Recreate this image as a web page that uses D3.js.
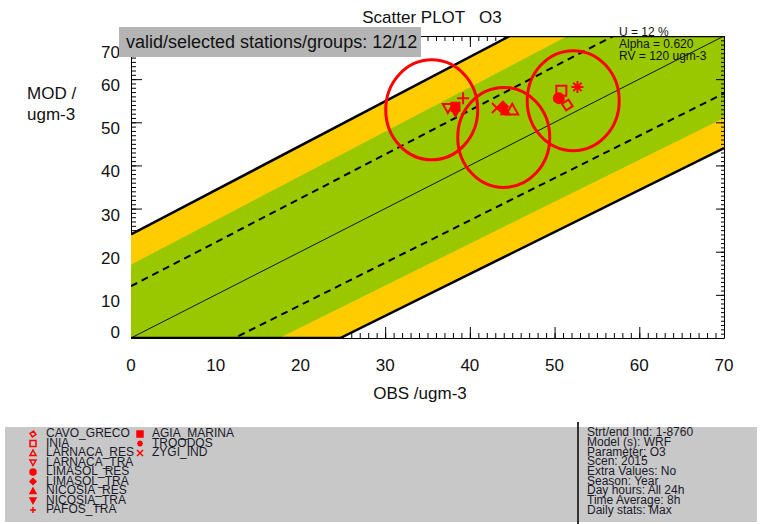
<!DOCTYPE html>
<html>
<head>
<meta charset="utf-8">
<script src="https://cdn.jsdelivr.net/npm/d3@7"></script>
<style>
  html, body { margin: 0; padding: 0; background: #fff; }
  svg { display: block; font-family: "Liberation Sans", Arial, sans-serif; }
</style>
</head>
<body>
<svg id="chart" width="762" height="524"></svg>
<script>
// ---- data ----
const stations = ["CAVO_GRECO", "INIA", "LARNACA_RES", "LARNACA_TRA", "LIMASOL_RES", "LIMASOL_TRA",
                  "NICOSIA_RES", "NICOSIA_TRA", "PAFOS_TRA", "AGIA_MARINA", "TROODOS", "ZYGI_IND"];
const obsValues = [51.5, 50.8, 45.0, 37.4, 50.5, 43.9, 44.2, 38.3, 39.2, 38.3, 52.7, 43.2];
const modValues = [54.0, 57.3, 52.9, 53.3, 55.6, 53.6, 52.6, 52.2, 55.6, 53.6, 58.2, 53.3];
const stationSymbols = ["diamondOpen", "squareOpen", "triUpOpen", "triDownOpen", "circleFilled", "diamondFilled",
                        "triUpFilled", "triDownFilled", "plus", "squareFilled", "asterisk", "cross"];

// group centres (OBS, MOD)
const groupObs = [35.5, 44.0, 52.2];
const groupMod = [52.9, 46.5, 55.0];

// quality-objective limits: half-width at OBS = 0 and OBS = 70
const outerLimit = [24, 26];
const greenLimit = [17, 19];
const dashedLimit = [12, 13.3];

const axisTicks = [0, 10, 20, 30, 40, 50, 60, 70];
const minorTicks = d3.range(0, 71, 1);

const infoLines = ["Strt/end Ind: 1-8760", "Model (s): WRF", "Parameter: O3", "Scen: 2015",
                   "Extra Values: No", "Season: Year", "Day hours: All 24h", "Time Average: 8h",
                   "Daily stats: Max"];
const paramLines = ["U = 12 %", "Alpha = 0.620", "RV = 120 ugm-3"];

// ---- layout ----
const svg = d3.select("#chart");
const x = d3.scaleLinear().domain([0, 70]).range([131, 724]);
const y = d3.scaleLinear().domain([0, 70]).range([338, 36]);
const RED = "#ff0000";

svg.append("defs").append("clipPath").attr("id", "plotClip")
  .append("rect").attr("x", x(0)).attr("y", y(70))
  .attr("width", x(70) - x(0)).attr("height", y(0) - y(70));

// ---- axes (inward ticks) ----
function drawAxis(axisGen, tx, ty) {
  const g = svg.append("g").attr("transform", `translate(${tx},${ty})`);
  g.call(axisGen);
  g.selectAll("text").remove();
  g.selectAll("line").attr("stroke", "#000").attr("stroke-width", 1);
  g.select(".domain").attr("stroke", "#000").attr("stroke-width", 1);
  return g;
}
const axes = [
  [d3.axisRight(y), x(0), 0],
  [d3.axisTop(x), 0, y(0)],
  [d3.axisBottom(x), 0, y(70)]
];
axes.forEach(([gen, tx, ty]) => {
  drawAxis(gen.tickValues(minorTicks).tickSize(5).tickSizeOuter(0).tickFormat(""), tx, ty);
  drawAxis(gen.tickValues(axisTicks).tickSize(11).tickSizeOuter(0).tickFormat(""), tx, ty).select(".domain").remove();
});

// ---- quality bands ----
const lim = (l, o) => l[0] + (l[1] - l[0]) * o / 70;
const upperPts = (l) => [[0, lim(l, 0)], [70, 70 + lim(l, 70)]];
const lowerPts = (l) => [[0, -lim(l, 0)], [70, 70 - lim(l, 70)]];
const line = d3.line().x(d => x(d[0])).y(d => y(d[1]));
const plot = svg.append("g").attr("clip-path", "url(#plotClip)");

function band(l, color) {
  const pts = upperPts(l).concat(lowerPts(l).reverse());
  plot.append("path").attr("d", line(pts) + "Z").attr("fill", color);
}
band(outerLimit, "#ffcc00");
band(greenLimit, "#99c800");

// outer limits with the plot edge they cut off
const topCross = (70 - outerLimit[0]) / (1 + (outerLimit[1] - outerLimit[0]) / 70);
const botCross = outerLimit[0] / (1 - (outerLimit[1] - outerLimit[0]) / 70);
plot.append("path")
  .attr("d", line([[0, lim(outerLimit, 0)], [topCross, 70], [70, 70]]))
  .attr("fill", "none").attr("stroke", "#000").attr("stroke-width", 2.5);
plot.append("path")
  .attr("d", line([[0, 0], [botCross, 0], [70, 70 - lim(outerLimit, 70)]]))
  .attr("fill", "none").attr("stroke", "#000").attr("stroke-width", 2.5);

// dashed limits
[upperPts(dashedLimit), lowerPts(dashedLimit)].forEach(pts => {
  plot.append("path").attr("d", line(pts)).attr("fill", "none")
    .attr("stroke", "#000").attr("stroke-width", 2).attr("stroke-dasharray", "7,5");
});
// 1:1 line
plot.append("path").attr("d", line([[0, 0], [70, 70]])).attr("fill", "none")
  .attr("stroke", "#000").attr("stroke-width", 0.9);

// right axis drawn over the bands
drawAxis(d3.axisLeft(y).tickValues(minorTicks).tickSize(3).tickSizeOuter(0).tickFormat(""), x(70), 0);
drawAxis(d3.axisLeft(y).tickValues(axisTicks).tickSize(8).tickSizeOuter(0).tickFormat(""), x(70), 0)
  .select(".domain").remove();

// ---- tick labels ----
svg.append("g").selectAll("text").data(axisTicks).join("text")
  .attr("x", 120).attr("text-anchor", "end")
  .attr("y", d => y(d) + (d === 0 ? -6 : d === 70 ? 16 : 6))
  .attr("dy", "0.35em").attr("font-size", 17).attr("fill", "#111")
  .text(d => d);
svg.append("g").selectAll("text").data(axisTicks).join("text")
  .attr("x", d => x(d)).attr("y", 365).attr("dy", "0.35em")
  .attr("text-anchor", "middle").attr("font-size", 17).attr("fill", "#111")
  .text(d => d);

svg.append("text").attr("x", 420).attr("y", 393).attr("dy", "0.35em").attr("text-anchor", "middle")
  .attr("font-size", 17).attr("fill", "#111").text("OBS /ugm-3");
svg.append("text").attr("x", 27).attr("y", 93).attr("dy", "0.35em")
  .attr("font-size", 17).attr("fill", "#111").text("MOD /");
svg.append("text").attr("x", 27).attr("y", 114).attr("dy", "0.35em")
  .attr("font-size", 17).attr("fill", "#111").text("ugm-3");
svg.append("text").attr("x", 432).attr("y", 17).attr("dy", "0.35em").attr("text-anchor", "middle")
  .attr("font-size", 17).attr("fill", "#111").attr("xml:space", "preserve").text("Scatter PLOT   O3");

// status box
svg.append("rect").attr("x", 119).attr("y", 27).attr("width", 302).attr("height", 30).attr("fill", "#b4b4b4");
svg.append("text").attr("x", 126).attr("y", 42).attr("dy", "0.35em")
  .attr("font-size", 18).attr("fill", "#111").text("valid/selected stations/groups: 12/12");

// parameters
svg.append("g").selectAll("text").data(paramLines).join("text")
  .attr("x", 619).attr("y", (d, i) => 32 + i * 12).attr("dy", "0.35em")
  .attr("font-size", 12).attr("fill", "#111").text(d => d);

// ---- symbols ----
function symbolPath(type, s) {
  const h = s / 2;
  switch (type) {
    case "diamondOpen": case "diamondFilled":
      return `M0,${-h}L${h},0L0,${h}L${-h},0Z`;
    case "squareOpen": case "squareFilled":
      return `M${-h},${-h}H${h}V${h}H${-h}Z`;
    case "triUpOpen": case "triUpFilled":
      return `M0,${-h}L${h},${h * 0.8}L${-h},${h * 0.8}Z`;
    case "triDownOpen": case "triDownFilled":
      return `M0,${h}L${h},${-h * 0.8}L${-h},${-h * 0.8}Z`;
    case "circleFilled":
      return d3.arc()({innerRadius: 0, outerRadius: h, startAngle: 0, endAngle: 2 * Math.PI});
    case "plus":
      return `M${-h},0H${h}M0,${-h}V${h}`;
    case "cross":
      return `M${-h},${-h}L${h},${h}M${h},${-h}L${-h},${h}`;
    case "asterisk":
      return `M${-h},0H${h}M0,${-h}V${h}M${-h * 0.7},${-h * 0.7}L${h * 0.7},${h * 0.7}M${h * 0.7},${-h * 0.7}L${-h * 0.7},${h * 0.7}`;
  }
}
const isFilled = t => t.endsWith("Filled");
const symbolSize = {diamondOpen: 11, squareOpen: 10, triUpOpen: 12, triDownOpen: 10, circleFilled: 10,
                    diamondFilled: 10, triUpFilled: 8, triDownFilled: 7, plus: 12, squareFilled: 8,
                    asterisk: 12, cross: 10};

function drawSymbol(g, type, s, cx, cy, sw) {
  g.append("path").attr("transform", `translate(${cx},${cy})` + (type === "diamondOpen" ? " rotate(12)" : ""))
    .attr("d", symbolPath(type, s))
    .attr("fill", isFilled(type) ? RED : "none")
    .attr("stroke", RED).attr("stroke-width", sw).attr("stroke-linejoin", "miter");
}

const pts = svg.append("g");
stations.forEach((st, i) => {
  drawSymbol(pts, stationSymbols[i], symbolSize[stationSymbols[i]], x(obsValues[i]), y(modValues[i]), 2);
});

// group circles
svg.append("g").selectAll("ellipse").data(groupObs).join("ellipse")
  .attr("cx", d => x(d)).attr("cy", (d, i) => y(groupMod[i]))
  .attr("rx", 46).attr("ry", 50)
  .attr("fill", "none").attr("stroke", RED).attr("stroke-width", 3);

// ---- legend panel ----
svg.append("rect").attr("x", 5).attr("y", 427).attr("width", 752).attr("height", 95).attr("fill", "#c8c8c8");
svg.append("rect").attr("x", 577).attr("y", 422).attr("width", 2).attr("height", 102).attr("fill", "#333");

const leg = svg.append("g");
stations.forEach((st, i) => {
  const col = i < 9 ? 0 : 1;
  const row = i < 9 ? i : i - 9;
  const ly = 433 + row * 9.5;
  const sx = col === 0 ? 33 : 140;
  drawSymbol(leg, stationSymbols[i], 6, sx, ly + 1, 1.5);
  leg.append("text").attr("x", col === 0 ? 46 : 152).attr("y", ly).attr("dy", "0.35em")
    .attr("font-size", 12).attr("fill", "#1a1a2a").text(st);
});

svg.append("g").selectAll("text").data(infoLines).join("text")
  .attr("x", 587).attr("y", (d, i) => 432 + i * 9.7).attr("dy", "0.35em")
  .attr("font-size", 12).attr("fill", "#1a1a2a").text(d => d);
</script>
</body>
</html>
